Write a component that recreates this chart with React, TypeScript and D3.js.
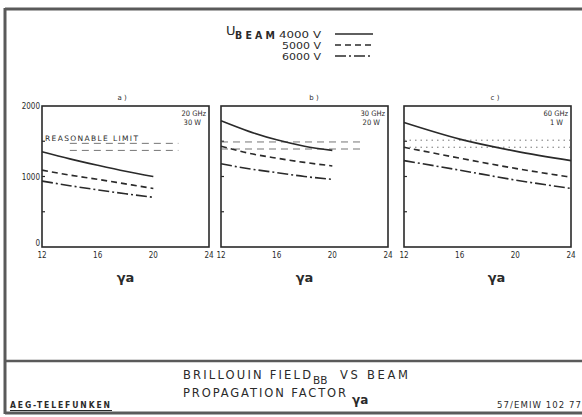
import React from "react";
import * as d3 from "d3";

// ---- data ----
const gammaTicks = [12, 16, 20, 24];
const fieldTicks = [0, 1000, 2000];
const panelLabels = ["a )", "b )", "c )"];
const freqLabels = ["20 GHz", "30 GHz", "60 GHz"];
const powerLabels = ["30 W", "20 W", "1 W"];
const beamLabels = ["4000 V", "5000 V", "6000 V"];

const gammaAB = [12, 14, 16, 18, 20];
const gammaC = [12, 16, 20, 24];

const a4000 = [1350, 1250, 1160, 1075, 1000];
const a5000 = [1090, 1020, 960, 895, 830];
const a6000 = [935, 870, 810, 755, 705];

const b4000 = [1790, 1640, 1520, 1430, 1370];
const b5000 = [1430, 1330, 1260, 1200, 1150];
const b6000 = [1180, 1110, 1055, 1000, 960];

const c4000 = [1765, 1530, 1360, 1225];
const c5000 = [1415, 1260, 1115, 990];
const c6000 = [1225, 1090, 950, 830];

const limitA = [1470, 1370];
const limitB = [1490, 1390];
const limitC = [1515, 1415];
const limitRangeA = [14, 21.8];
const limitRangeB = [12, 22];
const limitRangeC = [12, 24];

const titleLine1 = "BRILLOUIN FIELD";
const titleSub = "BB";
const titleLine1b = "VS BEAM";
const titleLine2 = "PROPAGATION FACTOR";
const company = "AEG-TELEFUNKEN";
const docRef = "57/EMIW  102  77";

// ---- layout ----
const W = 582;
const H = 417;
const ink = "#2a2a2a";
const frame = "#5a5a5a";
const panelLeft = [42, 221, 404];
const panelWidth = 167;
const plotTop = 106;
const plotBottom = 247;
const dashes = ["none", "6,4", "11,3,2,3"];
const font = "DejaVu Sans, sans-serif";
const condensed = "DejaVu Sans Condensed, DejaVu Sans, sans-serif";

const panelsData = [
  { xs: gammaAB, series: [a4000, a5000, a6000], limit: limitA, range: limitRangeA },
  { xs: gammaAB, series: [b4000, b5000, b6000], limit: limitB, range: limitRangeB },
  { xs: gammaC, series: [c4000, c5000, c6000], limit: limitC, range: limitRangeC },
];

const y = d3.scaleLinear().domain([0, 2000]).range([plotBottom, plotTop]);

function Panel({ idx }: { idx: number }) {
  const left = panelLeft[idx];
  const x = d3.scaleLinear().domain([12, 24]).range([left, left + panelWidth]);
  const p = panelsData[idx];
  const line = d3
    .line<[number, number]>()
    .x((d) => x(d[0]))
    .y((d) => y(d[1]))
    .curve(d3.curveMonotoneX);
  const cx = left + panelWidth / 2;
  const limitDash = idx === 2 ? "1.5,4" : "7,5";
  return (
    <g>
      <rect
        x={left}
        y={plotTop}
        width={panelWidth}
        height={plotBottom - plotTop}
        fill="none"
        stroke={ink}
        strokeWidth={1.6}
      />
      {[500, 1000, 1500].map((v) => (
        <line key={v} x1={left} x2={left + 3} y1={y(v)} y2={y(v)} stroke={ink} strokeWidth={1.2} />
      ))}
      {gammaTicks.map((g) => (
        <text key={g} x={x(g)} y={258} fontSize={8} textAnchor="middle" fill={ink} fontFamily={condensed}>
          {g}
        </text>
      ))}
      {idx === 0 &&
        fieldTicks.map((v) => (
          <text
            key={v}
            x={left - 2}
            y={v === 0 ? y(v) - 1 : y(v) + 3}
            fontSize={8}
            textAnchor="end"
            fill={ink}
            fontFamily={condensed}
          >
            {v}
          </text>
        ))}
      {p.limit.map((v, i) => (
        <line
          key={i}
          x1={x(p.range[0])}
          x2={x(p.range[1])}
          y1={y(v)}
          y2={y(v)}
          stroke="#555"
          strokeWidth={1}
          strokeDasharray={limitDash}
          opacity={0.8}
        />
      ))}
      {idx === 0 && (
        <text x={left + 3} y={y(p.limit[0]) - 2} fontSize={7.5} fill={ink} fontFamily={font} textLength={93}>
          REASONABLE LIMIT
        </text>
      )}
      {p.series.map((s, i) => (
        <path
          key={i}
          d={line(p.xs.map((g, j) => [g, s[j]] as [number, number])) || ""}
          fill="none"
          stroke={ink}
          strokeWidth={1.6}
          strokeDasharray={dashes[i]}
        />
      ))}
      <text x={left + panelWidth - 3} y={plotTop + 10} fontSize={7.5} textAnchor="end" fill={ink} fontFamily={condensed}>
        {freqLabels[idx]}
      </text>
      <text x={left + panelWidth - 8} y={plotTop + 19} fontSize={7.5} textAnchor="end" fill={ink} fontFamily={condensed}>
        {powerLabels[idx]}
      </text>
      <text x={[122, 314, 495][idx]} y={100} fontSize={7} textAnchor="middle" fill={ink} fontFamily={font}>
        {panelLabels[idx]}
      </text>
      <text
        x={cx + (idx === 2 ? 9 : 0)}
        y={282}
        fontSize={13}
        fontWeight="bold"
        textAnchor="middle"
        fill={ink}
        fontFamily={font}
      >
        γa
      </text>
    </g>
  );
}

export default function App() {
  const legendRows = [37.5, 48.5, 59.5];
  return (
    <svg
      width={W}
      height={H}
      viewBox={`0 0 ${W} ${H}`}
      style={{ position: "absolute", left: 0, top: 0, background: "#fff" }}
    >
      <rect x={0} y={0} width={W} height={H} fill="#fff" />
      <line x1={5} x2={W} y1={9} y2={9} stroke={frame} strokeWidth={3} />
      <line x1={5} x2={5} y1={8} y2={414} stroke={frame} strokeWidth={3} />
      <line x1={5} x2={W} y1={413} y2={413} stroke={frame} strokeWidth={3} />
      <line x1={5} x2={W} y1={361} y2={361} stroke={frame} strokeWidth={2.5} />

      {/* legend */}
      <text x={226} y={35} fontSize={13} fill={ink} fontFamily={font}>
        U
      </text>
      <text x={235} y={38.5} fontSize={10.5} fontWeight="bold" fill={ink} fontFamily={condensed} textLength={40}>
        BEAM
      </text>
      {beamLabels.map((l, i) => (
        <g key={l}>
          <text
            x={279 + (i === 0 ? 0 : 3)}
            y={legendRows[i]}
            fontSize={9.5}
            fill={ink}
            fontFamily={font}
            textLength={i === 0 ? 42 : 39}
            lengthAdjust="spacingAndGlyphs"
          >
            {l}
          </text>
          <line
            x1={335}
            x2={373}
            y1={legendRows[i] - 3.5}
            y2={legendRows[i] - 3.5}
            stroke={ink}
            strokeWidth={1.5}
            strokeDasharray={dashes[i]}
          />
        </g>
      ))}

      {[0, 1, 2].map((i) => (
        <Panel key={i} idx={i} />
      ))}

      {/* title block */}
      <text x={183} y={379} fontSize={11.5} fill={ink} fontFamily={font} textLength={128}>
        {titleLine1}
      </text>
      <text x={313} y={384} fontSize={10.5} fill={ink} fontFamily={font}>
        {titleSub}
      </text>
      <text x={340} y={379} fontSize={11.5} fill={ink} fontFamily={font} textLength={68}>
        {titleLine1b}
      </text>
      <text x={183} y={397} fontSize={11.5} fill={ink} fontFamily={font} textLength={163}>
        {titleLine2}
      </text>
      <text x={352} y={404} fontSize={12} fontWeight="bold" fill={ink} fontFamily={font}>
        γa
      </text>
      <text x={10} y={408} fontSize={8.5} fontWeight="bold" fill={ink} fontFamily={condensed} textLength={100}>
        {company}
      </text>
      <line x1={10} x2={112} y1={410.5} y2={410.5} stroke={ink} strokeWidth={1} />
      <text x={497} y={408} fontSize={9.5} fill={ink} fontFamily={condensed} textLength={84}>
        {docRef}
      </text>
    </svg>
  );
}
